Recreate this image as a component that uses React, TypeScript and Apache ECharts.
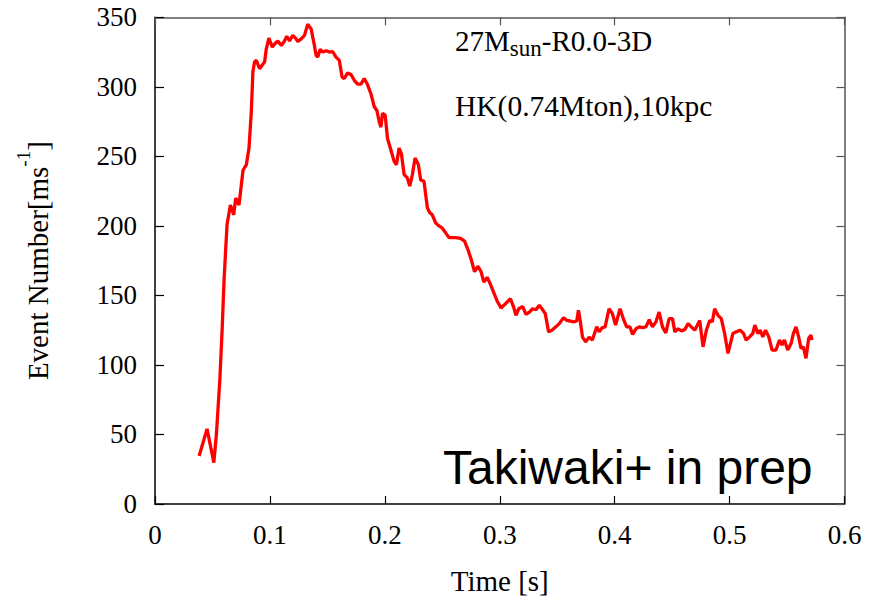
import React, { useEffect, useRef } from "react";
import * as echarts from "echarts";

const TIME_S = [
  0.0384, 0.0453, 0.0512, 0.0535, 0.0564, 0.0584, 0.0601, 0.0616, 0.0627, 0.0656,
  0.0685, 0.0702, 0.0731, 0.0766, 0.0795, 0.0818, 0.0838, 0.0852, 0.0867, 0.0882,
  0.0910, 0.0954, 0.0968, 0.0991, 0.1021, 0.1043, 0.1069, 0.1099, 0.1127, 0.1147,
  0.1171, 0.1199, 0.1223, 0.1243, 0.1272, 0.1301, 0.1329, 0.1359, 0.1387, 0.1402,
  0.1416, 0.1437, 0.1459, 0.1489, 0.1517, 0.1546, 0.1575, 0.1604, 0.1628, 0.1647,
  0.1676, 0.1706, 0.1734, 0.1763, 0.1792, 0.1821, 0.1849, 0.1879, 0.1908, 0.1931,
  0.1951, 0.1966, 0.1980, 0.2003, 0.2023, 0.2052, 0.2081, 0.2101, 0.2124, 0.2144,
  0.2168, 0.2196, 0.2217, 0.2240, 0.2263, 0.2292, 0.2312, 0.2341, 0.2370, 0.2391,
  0.2413, 0.2443, 0.2471, 0.2495, 0.2529, 0.2558, 0.2616, 0.2659, 0.2694, 0.2723,
  0.2751, 0.2781, 0.2809, 0.2838, 0.2861, 0.2890, 0.2919, 0.2948, 0.2977, 0.3011,
  0.3050, 0.3093, 0.3121, 0.3141, 0.3165, 0.3200, 0.3228, 0.3258, 0.3286, 0.3315,
  0.3344, 0.3367, 0.3396, 0.3425, 0.3454, 0.3488, 0.3518, 0.3555, 0.3584, 0.3613,
  0.3642, 0.3670, 0.3685, 0.3700, 0.3720, 0.3748, 0.3778, 0.3806, 0.3844, 0.3865,
  0.3893, 0.3917, 0.3951, 0.3980, 0.4008, 0.4047, 0.4075, 0.4104, 0.4133, 0.4156,
  0.4185, 0.4214, 0.4243, 0.4272, 0.4301, 0.4329, 0.4359, 0.4387, 0.4416, 0.4445,
  0.4474, 0.4503, 0.4524, 0.4552, 0.4581, 0.4610, 0.4639, 0.4667, 0.4697, 0.4740,
  0.4769, 0.4798, 0.4827, 0.4850, 0.4870, 0.4899, 0.4928, 0.4957, 0.4986, 0.5029,
  0.5058, 0.5092, 0.5122, 0.5144, 0.5174, 0.5202, 0.5220, 0.5246, 0.5266, 0.5289,
  0.5313, 0.5341, 0.5370, 0.5404, 0.5434, 0.5456, 0.5477, 0.5506, 0.5535, 0.5555,
  0.5578, 0.5601, 0.5621, 0.5642, 0.5665, 0.5688, 0.5708, 0.5717,
];

const EVENTS_PER_MS = [
  34.5, 54, 29.7, 51, 89, 125, 161, 184.5, 201, 215,
  208, 220, 215, 240, 244, 256, 282, 311, 318, 319,
  313, 318, 327, 335, 328.6, 331, 333, 329.7, 333, 336.4,
  333, 337, 335, 332.6, 334.5, 337, 345, 341.6, 329.7, 322.6,
  321.4, 327, 325, 326, 325, 325.4, 321.4, 319, 307, 306,
  310, 308.8, 304.7, 302, 302, 306, 301.6, 295, 285.7, 283,
  275, 271, 281, 279.7, 263, 254.7, 246.4, 244, 256, 252,
  236.9, 234.5, 228.6, 236.9, 248.8, 244, 233, 232, 213, 209.5,
  208, 202, 200, 198.8, 195, 191.6, 191.6, 191, 189, 183,
  176, 167, 171, 167, 159.5, 163, 158, 152, 146, 141,
  144, 147.6, 141.6, 135.7, 140.4, 142, 136.4, 138, 140.4, 139.7,
  142.9, 140.4, 136.9, 123.8, 125, 127.4, 129.7, 134, 132, 131.6,
  131, 131.6, 139.3, 132, 120, 116.6, 120, 117.9, 127.4, 123.8,
  126.9, 127.4, 140.4, 136.9, 128.6, 140.4, 133.3, 127.4, 127.4, 122,
  126, 127.4, 126.9, 127.4, 132.6, 127.4, 131, 138, 127.4, 123,
  133.3, 133.3, 123.8, 126, 124.5, 125.4, 129.7, 127.4, 125, 132,
  113, 125, 132, 131, 140.4, 135.7, 133.3, 122.6, 108.3, 122.6,
  123.8, 125, 122.6, 117.9, 120.2, 122.6, 128.6, 122.6, 125, 120.2,
  125, 120.2, 110.7, 110.7, 117.9, 114.3, 117.9, 110.7, 115.4, 122.6,
  127.4, 120.2, 112, 113, 104.7, 119, 121.4, 117.9,
];

const X_TICKS = [0, 0.1, 0.2, 0.3, 0.4, 0.5, 0.6];
const Y_TICKS = [0, 50, 100, 150, 200, 250, 300, 350];

const SERIF = "Liberation Serif";
const SANS = "Liberation Sans";

export default function App() {
  const ref = useRef<HTMLDivElement>(null);

  useEffect(() => {
    if (!ref.current) return;
    const chart = echarts.init(ref.current, null, { renderer: "svg" });
    const data = TIME_S.map((t, i) => [t, EVENTS_PER_MS[i]]);
    const xMin = X_TICKS[0];
    const xMax = X_TICKS[X_TICKS.length - 1];
    const xStep = X_TICKS[1] - X_TICKS[0];
    const yMin = Y_TICKS[0];
    const yMax = Y_TICKS[Y_TICKS.length - 1];
    const yStep = Y_TICKS[1] - Y_TICKS[0];
    const xFmt = (v: number) => `{t|${v === 0 ? "0" : v.toFixed(1)}}`;
    const yFmt = (v: number) => `{t|${v}}`;

    const frame = "#555555";
    const tickRich = { t: { fontFamily: SERIF, fontSize: 27, color: "#000" } };
    chart.setOption({
      animation: false,
      backgroundColor: "#ffffff",
      textStyle: { fontFamily: SERIF, color: "#000" },
      grid: { left: 155, right: 36.5, top: 17.3, bottom: 91.7, containLabel: false },
      xAxis: [
        {
          type: "value",
          min: xMin,
          max: xMax,
          interval: xStep,
          position: "bottom",
          name: "Time [s]",
          nameLocation: "middle",
          nameGap: 62,
          nameTextStyle: { fontFamily: SERIF, fontSize: 29, color: "#000" },
          axisLine: { show: true, onZero: false, lineStyle: { color: "#000", width: 1.5 } },
          axisTick: { show: true, inside: true, length: 8, lineStyle: { color: "#000", width: 1.2 } },
          axisLabel: { fontFamily: SERIF, fontSize: 27, color: "#000", margin: 17, formatter: xFmt, rich: tickRich },
          splitLine: { show: false },
        },
        {
          type: "value",
          min: xMin,
          max: xMax,
          interval: xStep,
          position: "top",
          axisLine: { show: true, onZero: false, lineStyle: { color: frame, width: 1.5 } },
          axisTick: { show: true, inside: true, length: 8, lineStyle: { color: frame, width: 1.2 } },
          axisLabel: { show: false },
          splitLine: { show: false },
        },
      ],
      yAxis: [
        {
          type: "value",
          min: yMin,
          max: yMax,
          interval: yStep,
          position: "left",
          name: "{a|Event Number[ms}{s|-1}{a|]}",
          nameLocation: "middle",
          nameRotate: 90,
          nameGap: 94,
          nameTextStyle: {
            fontFamily: SERIF,
            fontSize: 29,
            rich: {
              a: { fontFamily: SERIF, fontSize: 29, color: "#000" },
              s: { fontFamily: SERIF, fontSize: 19, color: "#000", padding: [0, 0, 28, 0] },
            },
          },
          axisLine: { show: true, onZero: false, lineStyle: { color: "#000", width: 1.5 } },
          axisTick: { show: true, inside: true, length: 9, lineStyle: { color: "#000", width: 1.2 } },
          axisLabel: { fontFamily: SERIF, fontSize: 27, color: "#000", margin: 18, formatter: yFmt, rich: tickRich },
          splitLine: { show: false },
        },
        {
          type: "value",
          min: yMin,
          max: yMax,
          interval: yStep,
          position: "right",
          axisLine: { show: true, onZero: false, lineStyle: { color: frame, width: 1.5 } },
          axisTick: { show: true, inside: true, length: 8, lineStyle: { color: frame, width: 1.2 } },
          axisLabel: { show: false },
          splitLine: { show: false },
        },
      ],
      series: [
        {
          type: "line",
          xAxisIndex: 0,
          yAxisIndex: 0,
          data,
          showSymbol: false,
          symbol: "none",
          smooth: false,
          lineStyle: { color: "#ff0000", width: 3.3 },
          z: 5,
        },
      ],
      graphic: [
        {
          type: "text",
          left: 455,
          top: 26,
          style: {
            text: "{a|27M}{b|sun}{a|-R0.0-3D}",
            fontFamily: SERIF,
            fontSize: 29,
            fill: "#000",
            rich: {
              a: { fontFamily: SERIF, fontSize: 29, fill: "#000" },
              b: { fontFamily: SERIF, fontSize: 23, fill: "#000", padding: [16, 0, 0, 0] },
            },
          },
        },
        {
          type: "text",
          left: 455,
          top: 91,
          style: {
            text: "HK(0.74Mton),10kpc",
            fontFamily: SERIF,
            fontSize: 29.5,
            fill: "#000",
          },
        },
        {
          type: "text",
          left: 443,
          top: 443,
          style: {
            text: "Takiwaki+ in prep",
            fontFamily: SANS,
            fontSize: 48,
            fill: "#000",
          },
        },
      ],
    });
    return () => chart.dispose();
  }, []);

  return (
    <div
      ref={ref}
      style={{ position: "absolute", left: 0, top: 0, width: 881, height: 600, background: "#fff" }}
    />
  );
}
